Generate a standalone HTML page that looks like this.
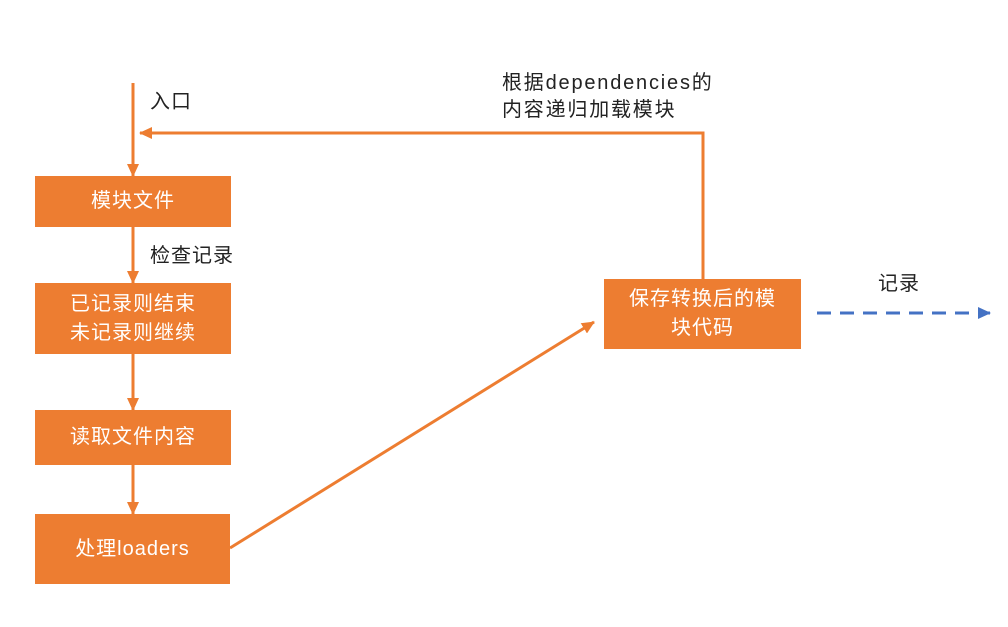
<!DOCTYPE html>
<html><head><meta charset="utf-8"><style>
body{margin:0;width:1008px;height:627px;background:#fff;overflow:hidden;position:relative;font-family:"Liberation Sans","Noto Sans CJK SC",sans-serif;}
.b{position:absolute;background:#ED7D31;color:#fff;font-size:20px;letter-spacing:1px;display:flex;align-items:center;justify-content:center;text-align:center;line-height:29px;}
.t{position:absolute;color:#222;font-size:20px;letter-spacing:1px;line-height:27px;}
svg{position:absolute;left:0;top:0}
</style></head><body>
<svg width="1008" height="627">
<defs>
<marker id="a" markerWidth="13" markerHeight="12" refX="12" refY="6" orient="auto" markerUnits="userSpaceOnUse"><path d="M0,0 L13,6 L0,12 z" fill="#ED7D31"/></marker>
<marker id="c" markerWidth="13" markerHeight="12" refX="12" refY="6" orient="auto" markerUnits="userSpaceOnUse"><path d="M0,0 L13,6 L0,12 z" fill="#4472C4"/></marker>
</defs>
<g stroke="#ED7D31" stroke-width="3" fill="none">
<line x1="133" y1="83" x2="133" y2="176" marker-end="url(#a)"/>
<line x1="133" y1="227" x2="133" y2="283" marker-end="url(#a)"/>
<line x1="133" y1="354" x2="133" y2="410" marker-end="url(#a)"/>
<line x1="133" y1="465" x2="133" y2="514" marker-end="url(#a)"/>
<polyline points="703,279 703,133 140,133" marker-end="url(#a)"/>
<line x1="230" y1="548" x2="594" y2="322" marker-end="url(#a)"/>
</g>
<line x1="817" y1="313" x2="990" y2="313" stroke="#4472C4" stroke-width="3" stroke-dasharray="14,9" marker-end="url(#c)"/>
</svg>
<div class="b" style="left:35px;top:176px;width:196px;height:51px">模块文件</div>
<div class="b" style="left:35px;top:283px;width:196px;height:71px">已记录则结束<br>未记录则继续</div>
<div class="b" style="left:35px;top:410px;width:196px;height:55px">读取文件内容</div>
<div class="b" style="left:35px;top:514px;width:195px;height:70px">处理loaders</div>
<div class="b" style="left:604px;top:279px;width:197px;height:70px">保存转换后的模<br>块代码</div>
<div class="t" style="left:150px;top:89px">入口</div>
<div class="t" style="left:150px;top:243px">检查记录</div>
<div class="t" style="left:502px;top:70px;letter-spacing:1.8px">根据dependencies的<br>内容递归加载模块</div>
<div class="t" style="left:878px;top:271px">记录</div>
</body></html>
